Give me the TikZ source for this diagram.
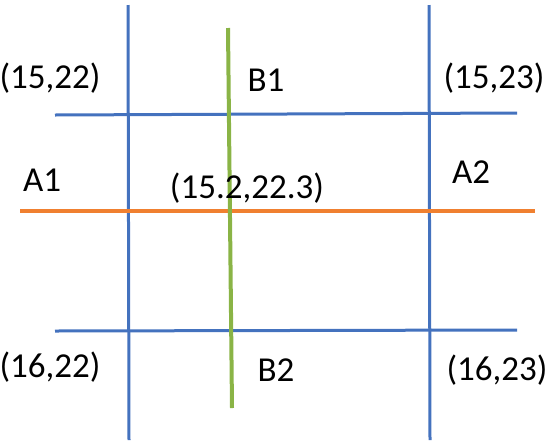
\documentclass[tikz,border=0pt]{standalone}
\usepackage{fontspec}
\setmainfont{Carlito}
\usepackage{tikz}
\usetikzlibrary{positioning}
\definecolor{gridblue}{RGB}{68,114,190}
\definecolor{crossorange}{RGB}{240,128,48}
\definecolor{crossgreen}{RGB}{138,180,70}

\begin{document}
\begin{tikzpicture}[x=1pt, y=-1pt,
  grid/.style={draw=gridblue, line width=3pt},
  cross/.style={line width=4pt},
  lbl/.style={inner sep=0pt, font=\fontsize{35}{38}\selectfont},
]
\useasboundingbox (0,0) rectangle (559,445);
% blue grid
\coordinate (vl-t) at (128,5);   \coordinate (vl-b) at (129,440);
\coordinate (vr-t) at (429,5);   \coordinate (vr-b) at (430,440);
\coordinate (ht-l) at (55,115);  \coordinate (ht-r) at (517,113);
\coordinate (hb-l) at (55,331);  \coordinate (hb-r) at (517,330);
\draw[grid] (vl-t) -- (vl-b);
\draw[grid] (vr-t) -- (vr-b);
\draw[grid] (ht-l) -- (ht-r);
\draw[grid] (hb-l) -- (hb-r);
% A1--A2 and B1--B2
\coordinate (a-l) at (20,211);  \coordinate (a-r) at (535,211);
\coordinate (b-t) at (228,28);  \coordinate (b-b) at (232,408);
\draw[cross, draw=crossorange] (a-l) -- (a-r);
\draw[cross, draw=crossgreen] (b-t) -- (b-b);

\node[lbl] (c1) at (50,78)   {(15,22)};
\node[lbl] (b1) at (266,80)  {B1};
\node[lbl] (c2) at (494,78)  {(15,23)};
\node[lbl] (a1) at (42,180)  {A1};
\node[lbl] (p)  at (247,188) {(15.2,22.3)};
\node[lbl] (a2) at (471,172) {A2};
\node[lbl] (c3) at (50,367)  {(16,22)};
\node[lbl] (b2) at (276,370) {B2};
\node[lbl] (c4) at (497,370) {(16,23)};
\end{tikzpicture}
\end{document}
